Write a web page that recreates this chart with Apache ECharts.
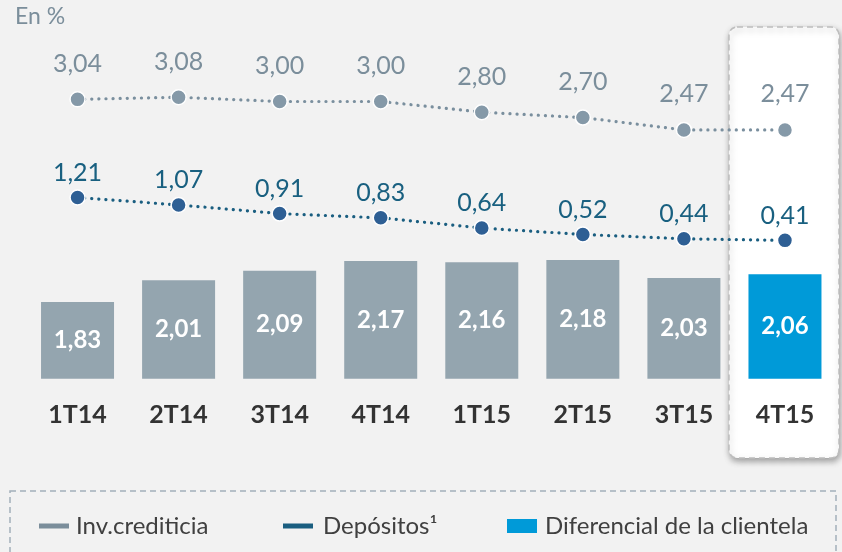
<!DOCTYPE html>
<html>
<head>
<meta charset="utf-8">
<script src="https://cdn.jsdelivr.net/npm/echarts@6/dist/echarts.min.js"></script>
<style>
html,body{margin:0;padding:0;background:#f2f2f2;}
#c{width:842px;height:552px;}
</style>
</head>
<body>
<div id="c"></div>
<script>
var categories = ['1T14','2T14','3T14','4T14','1T15','2T15','3T15','4T15'];
var diferencial = [1.83, 2.01, 2.09, 2.17, 2.16, 2.18, 2.03, 2.06];
var invCrediticia = [3.04, 3.08, 3.00, 3.00, 2.80, 2.70, 2.47, 2.47];
var depositos = [1.21, 1.07, 0.91, 0.83, 0.64, 0.52, 0.44, 0.41];
var highlightIndex = 7;

var FONT = 'Lato';
function fmt(v){ return v.toFixed(2).replace('.', ','); }

var chart = echarts.init(document.getElementById('c'));
chart.setOption({
  backgroundColor: '#f2f2f2',
  animation: false,
  textStyle: { fontFamily: FONT },
  graphic: [
    { type: 'text', left: 15, top: 5, z: 10,
      style: { text: 'En %', fill: '#7b8e9b', font: '23px ' + FONT } },
    { type: 'rect', z: 0, shape: { x: 729, y: 27, width: 110, height: 431, r: 8 },
      style: { fill: '#ffffff', stroke: '#bdbdbd', lineWidth: 1.5, lineDash: [6, 4],
               shadowBlur: 6, shadowOffsetX: 1, shadowOffsetY: 3, shadowColor: 'rgba(0,0,0,0.35)' } },
    { type: 'rect', z: 0, shape: { x: 10, y: 491, width: 826, height: 80 },
      style: { fill: 'none', stroke: '#a3b0ba', lineWidth: 1.5, lineDash: [6, 4] } }
  ],
  legend: [
    { left: 34, top: 509, itemWidth: 30, itemHeight: 5, selectedMode: false,
      textStyle: { fontSize: 24, color: '#404040', fontFamily: FONT, padding: [0,0,0,2] },
      data: [{ name: 'Inv.crediticia', icon: 'rect', itemStyle: { color: '#7b8e9b', borderWidth: 0 } }] },
    { left: 278, top: 509, itemWidth: 30, itemHeight: 5, selectedMode: false,
      textStyle: { fontSize: 24, color: '#404040', fontFamily: FONT, padding: [0,0,0,5] },
      data: [{ name: 'Depósitos¹', icon: 'rect', itemStyle: { color: '#1a5e80', borderWidth: 0 } }] },
    { left: 502, top: 509, itemWidth: 30, itemHeight: 14, selectedMode: false,
      textStyle: { fontSize: 24, color: '#404040', fontFamily: FONT, padding: [0,0,0,3] },
      data: [{ name: 'Diferencial de la clientela', icon: 'rect', itemStyle: { color: '#009ad8' } }] }
  ],
  grid: { left: 27, right: 6.5, top: 40, bottom: 173.3 },
  xAxis: {
    type: 'category', data: categories, boundaryGap: true,
    axisLine: { show: false }, axisTick: { show: false },
    axisLabel: { fontSize: 25, fontWeight: 'bold', color: '#333333', margin: 24, fontFamily: FONT }
  },
  yAxis: [
    { type: 'value', min: 1.19, max: 4.0125, show: false, splitLine: { show: false } },
    { type: 'value', min: -2.17, max: 4.147, show: false, splitLine: { show: false } }
  ],
  series: [
    { name: 'Diferencial de la clientela', type: 'bar', yAxisIndex: 0, barWidth: 73, z: 2,
      data: diferencial,
      itemStyle: { color: function(p){ return p.dataIndex === highlightIndex ? '#009ad8' : '#94a5af'; } },
      label: { show: true, position: 'inside', color: '#ffffff', fontSize: 24, fontWeight: 'bold',
               fontFamily: FONT, formatter: function(p){ return fmt(p.value); } } },
    { name: 'Inv.crediticia', type: 'line', yAxisIndex: 1, z: 5,
      data: invCrediticia, symbol: 'circle', symbolSize: 15,
      itemStyle: { color: '#8599a8', borderColor: '#ffffff', borderWidth: 1.5 },
      lineStyle: { color: '#7a8f9e', width: 3.2, type: [0.1, 7], cap: 'round' },
      label: { show: true, position: 'top', distance: 15, color: '#7b8e9b', fontSize: 25,
               fontFamily: FONT, formatter: function(p){ return fmt(p.value); } } },
    { name: 'Depósitos¹', type: 'line', yAxisIndex: 1, z: 5,
      data: depositos, symbol: 'circle', symbolSize: 15,
      itemStyle: { color: '#2e5f94', borderColor: '#ffffff', borderWidth: 1.5 },
      lineStyle: { color: '#1a5e80', width: 3.2, type: [0.1, 7], cap: 'round' },
      label: { show: true, position: 'top', distance: 4, color: '#196080', fontSize: 25,
               fontFamily: FONT, formatter: function(p){ return fmt(p.value); } } }
  ]
});
</script>
</body>
</html>
